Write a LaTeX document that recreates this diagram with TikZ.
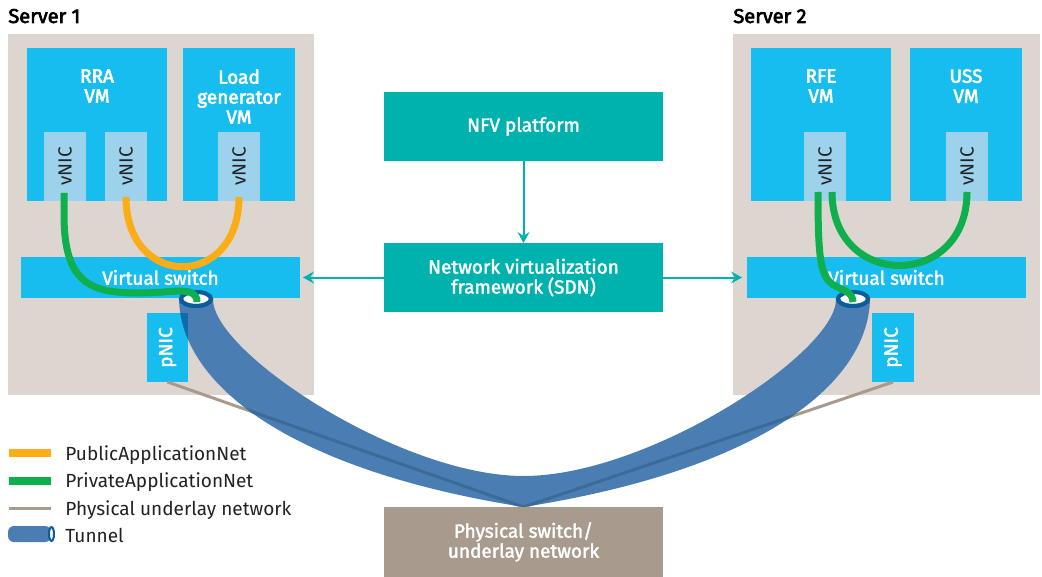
\documentclass[tikz,border=0pt]{standalone}
\usepackage{fontspec}
\setmainfont{Fira Sans}
\newfontfamily\medfont{Fira Sans}[FakeBold=2]
\newfontfamily\semifont{Fira Sans}[FakeBold=3]
\usetikzlibrary{arrows.meta,shapes.geometric,calc}
\definecolor{serverbg}{HTML}{DDD6D0}
\definecolor{vmblue}{HTML}{17BDEF}
\definecolor{nicblue}{HTML}{9DD2EC}
\definecolor{nfvteal}{HTML}{00B2AD}
\definecolor{physbrown}{HTML}{A89B8E}
\definecolor{tunnelblue}{HTML}{4A7DB2}
\definecolor{ringblue}{HTML}{0B5C9C}
\definecolor{privgreen}{HTML}{0EAF4C}
\definecolor{puborange}{HTML}{FBAD18}
\definecolor{stripeblue}{HTML}{3D6B99}
\definecolor{overlapblue}{HTML}{0E6CAE}
\definecolor{textdark}{HTML}{222222}
\begin{document}
\begin{tikzpicture}[x=0.5pt,y=-0.5pt,
  font=\fontsize{9.5}{10}\selectfont,
  box/.style={anchor=north west, inner sep=0pt, outer sep=0pt, draw=none},
  server/.style={box, fill=serverbg},
  vm/.style={box, fill=vmblue, minimum height=76.5pt},
  nic/.style={box, fill=nicblue, text=textdark, minimum width=21pt, minimum height=34.5pt},
  pnic/.style={box, fill=vmblue, text=white, minimum width=20.5pt, minimum height=34.5pt, font=\medfont\fontsize{9.5}{10}\selectfont},
  vswitch/.style={box, fill=vmblue, text=white, minimum width=139.5pt, minimum height=20.5pt, font=\medfont\fontsize{9.5}{10}\selectfont},
  ctrl/.style={box, fill=nfvteal, text=white, align=center, minimum width=139.5pt, minimum height=34.5pt, font=\medfont\fontsize{9.5}{10}\selectfont},
  physsw/.style={box, fill=physbrown, text=white, align=center, minimum width=139.5pt, minimum height=35pt, font=\medfont\fontsize{9.5}{10}\selectfont},
  vmlabel/.style={anchor=north, text=white, align=center, inner sep=0pt, font=\semifont\fontsize{9.5}{10}\selectfont},
  title/.style={anchor=base west, inner sep=0pt, font=\semifont\fontsize{10}{12}\selectfont, text=black},
  priv/.style={draw=privgreen, line width=3.5pt},
  pub/.style={draw=puborange, line width=3.5pt},
  under/.style={draw=physbrown, line width=1.5pt},
  ctrlarrow/.style={draw=nfvteal, line width=1pt, -{Stealth[length=5.5pt,width=6pt,inset=2pt]}},
  mouth/.style={ellipse, draw=ringblue, line width=2pt, fill=white, minimum width=15pt, minimum height=7pt, inner sep=0pt, outer sep=0pt},
  ring/.style={draw=ringblue, line width=2pt},
  legtext/.style={anchor=base west, inner sep=0pt, font=\fontsize{9.5}{10}\selectfont, text=textdark}
]
\useasboundingbox (0,0) rectangle (1042,577);

% titles
\node[title] (s1t) at (8,23) {Server 1};
\node[title] (s2t) at (733,23) {Server 2};

% servers
\node[server, minimum width=153pt, minimum height=180.5pt] (s1) at (8,34) {};
\node[server, minimum width=153.5pt, minimum height=180.5pt] (s2) at (733,34) {};

% VMs
\node[vm, minimum width=70pt] (rra) at (27,48) {};
\node[vm, minimum width=56pt] (load) at (183,48) {};
\node[vm, minimum width=70pt] (rfe) at (751,48) {};
\node[vm, minimum width=56pt] (uss) at (910,48) {};
\node[vmlabel] (rral) at (97,69) {RRA\\VM};
\node[vmlabel] (loadl) at (239,69) {Load\\generator\\VM};
\node[vmlabel] (rfel) at (821,69) {RFE\\VM};
\node[vmlabel] (ussl) at (966,69) {USS\\VM};

% vNICs
\node[nic] (v1) at (44,132) {\rotatebox{90}{vNIC}};
\node[nic] (v2) at (105,132) {\rotatebox{90}{vNIC}};
\node[nic] (v3) at (218,132) {\rotatebox{90}{vNIC}};
\node[nic] (v4) at (804,132) {\rotatebox{90}{vNIC}};
\node[nic] (v5) at (946,132) {\rotatebox{90}{vNIC}};

% virtual switches
\node[vswitch] (vs1) at (21,257) {Virtual switch};
\node[vswitch] (vs2) at (747,257) {Virtual switch};

% pNICs
\node[pnic] (p1) at (147,313) {\rotatebox{90}{pNIC}};
\node[pnic, minimum width=21pt] (p2) at (872,313) {\rotatebox{90}{pNIC}};

% control boxes
\node[ctrl] (nfv) at (384,92) {NFV platform};
\node[ctrl] (nvf) at (384,243) {Network virtualization\\framework (SDN)};
\node[physsw] (sw) at (384,507) {Physical switch/\\underlay network};

% control arrows
\draw[ctrlarrow] (nfv) -- (nvf);
\draw[ctrlarrow, shorten >=1.5pt] (nvf) -- (vs1);
\draw[ctrlarrow, shorten >=2.5pt] (nvf) -- (vs2);

% physical underlay lines
\draw[under] (p1.south) -- (sw.north);
\draw[under] (p2.south) -- (sw.north);

% tunnel
\node[mouth] (t1) at (196,299) {};
\node[mouth] (t2) at (853,299) {};
\coordinate (vtop) at ($(sw.north)+(0,-31)$);
\def\tunnelpath{($(t1.west)+(-2,0)$) .. controls (181,385) and (290,470) .. (sw.north)
  .. controls (759,470) and (868,385) .. ($(t2.east)+(2,0)$) -- ($(t2.west)+(-2,0)$)
  .. controls (837,352) and (649,476) .. (vtop)
  .. controls (400,476) and (212,352) .. ($(t1.east)+(2,0)$) -- cycle}
\fill[tunnelblue] \tunnelpath;
\begin{scope}
  \clip \tunnelpath;
  \fill[overlapblue] (p1.north west) rectangle (p1.south east);
  \draw[stripeblue, line width=1.5pt] (p1.south) -- (sw.north);
  \draw[stripeblue, line width=1.5pt] (p2.south) -- (sw.north);
\end{scope}
\node[mouth] at (t1) {};
\node[mouth] at (t2) {};

% virtual networks
\draw[pub] ($(v2.south)+(0,-4)$) .. controls +(0,93) and ($(v3.south)+(0,89)$) .. ($(v3.south)+(0,-4)$);
\draw[priv] ($(v1.south)+(-1,-8)$) -- ++(0,22) .. controls +(0,70) and (92,293) .. (140,293)
  .. controls (172,293) and (197,285) .. ($(t1.center)+(1,3)$);
\draw[priv] ($(v4.south)+(-7,-9)$) .. controls +(0,63) and (820,275) .. (832,284)
  .. controls (845,292) and (852,291) .. ($(t2.center)+(0,3)$);
\draw[priv] ($(v4.south)+(7,-9)$) .. controls +(0,98) and ($(v5.south)+(0,89)$) .. ($(v5.south)+(0,-9)$);

% front rims of tunnel mouths
\draw[ring] (t1.west) arc[start angle=180, end angle=360, x radius=7.5pt, y radius=3.5pt];
\draw[ring] (t2.west) arc[start angle=180, end angle=360, x radius=7.5pt, y radius=3.5pt];

% legend
\draw[pub, line width=4pt] (9,453) -- (51,453);
\node[legtext] (lg1) at (65,460) {PublicApplicationNet};
\draw[priv, line width=4pt] (9,480.5) -- (51,480.5);
\node[legtext] (lg2) at (65,487.5) {PrivateApplicationNet};
\draw[under] (9,508) -- (51,508);
\node[legtext] (lg3) at (65,515) {Physical underlay network};
\fill[tunnelblue, rounded corners=3pt] (8,526) rectangle (51,542);
\node[mouth, line width=1pt, minimum width=2.5pt, minimum height=7pt] (lt) at (51.5,534) {};
\node[legtext] (lg4) at (65,542) {Tunnel};
\end{tikzpicture}
\end{document}
